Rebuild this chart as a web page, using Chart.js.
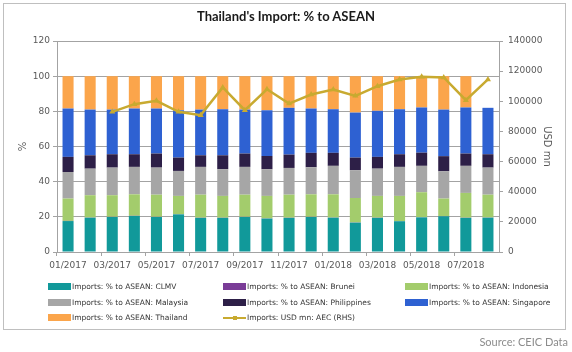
<!DOCTYPE html>
<html>
<head>
<meta charset="utf-8">
<script src="https://cdn.jsdelivr.net/npm/chart.js@4"></script>
<style>
  html,body{margin:0;padding:0;background:#fff;}
  #wrap{position:relative;width:572px;height:352px;overflow:hidden;}
  #frame{position:absolute;left:3px;top:3px;width:563px;height:327px;border:1px solid #bfbfbf;box-sizing:border-box;}
  #title{position:absolute;left:0;top:8px;width:572px;text-align:center;font:bold 13px Lato,"Open Sans",sans-serif;color:#1a1a1a;}
  canvas{position:absolute;left:0;top:0;}
  #legend{position:absolute;left:0;top:0;width:572px;height:352px;pointer-events:none;}
  .leg{position:absolute;display:flex;align-items:center;font:7.5px "DejaVu Sans",Verdana,sans-serif;color:#333;white-space:nowrap;}
  .sw{width:23px;height:7px;margin-right:1px;}
  .ln{width:23px;height:7px;margin-right:1px;position:relative;}
  .ln:before{content:'';position:absolute;left:0;right:0;top:3px;height:2px;background:#c8aa30;}
  .ln:after{content:'';position:absolute;left:10px;top:2px;width:4px;height:4px;background:#c8aa30;}
  #source{position:absolute;right:4px;top:335px;font:11px Lato,"Open Sans",sans-serif;color:#8c8c8c;}
</style>
</head>
<body>
<div id="wrap">
  <canvas id="chart" width="572" height="352"></canvas>
  <div id="frame"></div>
  <div id="title">Thailand's Import: % to ASEAN</div>
  <div id="legend"></div>
  <div id="source">Source: CEIC Data</div>
</div>
<script>
const months = ['01/2017','02/2017','03/2017','04/2017','05/2017','06/2017','07/2017','08/2017','09/2017','10/2017',
                '11/2017','12/2017','01/2018','02/2018','03/2018','04/2018','05/2018','06/2018','07/2018','08/2018'];

const clmv        = [17.6,19.5,19.9,20.5,19.9,21.4,19.4,19.4,19.9,19.0,19.4,19.9,19.5,16.7,19.4,17.5,19.7,20.3,19.4,19.5];
const brunei      = [0.1,0.1,0.1,0.1,0.1,0.1,0.1,0.1,0.1,0.1,0.1,0.1,0.1,0.1,0.1,0.1,0.1,0.1,0.1,0.1];
const indonesia   = [12.7,12.7,12.3,12.2,12.6,10.4,13.1,12.4,12.6,12.8,13.1,12.8,13.2,13.9,12.4,14.3,14.2,10.0,14.1,13.0];
const malaysia    = [15.1,15.1,15.7,15.6,15.4,14.2,15.8,15.2,15.8,15.2,15.2,15.4,16.2,15.8,15.5,16.5,15.0,15.5,15.4,15.4];
const philippines = [8.6,7.6,7.6,7.2,8.0,7.6,6.6,7.9,7.6,7.5,7.6,8.2,7.4,7.2,6.7,7.2,7.5,8.6,7.0,7.6];
const singapore   = [27.5,26.0,25.4,26.0,25.6,26.9,26.0,26.2,25.0,26.0,26.6,25.2,24.8,25.6,26.2,25.6,25.7,26.5,26.2,26.4];
const thailand    = [18.4,19.0,19.0,18.4,18.4,19.4,19.0,18.8,19.0,19.4,18.0,18.4,18.8,20.7,19.7,18.8,17.8,19.0,17.8,null];
const aecUsd      = [null,null,93000,98100,100300,93000,90800,109200,94100,108000,98500,104500,107800,103600,110000,114500,116200,115800,100700,114500];

const leftTicks = [0,20,40,60,80,100,120];
const rightTicks = [0,20000,40000,60000,80000,100000,120000,140000];

const C = {
  clmv:'#11999a', brunei:'#7a3c97', indo:'#a3cc6c', mal:'#a6a6a6',
  phil:'#2d1f47', sing:'#2e61d2', thai:'#fba54b', line:'#c8aa30', grid:'#a3a3a3', text:'#595959'
};

Chart.defaults.font.family = '"DejaVu Sans", Verdana, sans-serif';
Chart.defaults.font.size = 9;
Chart.defaults.color = C.text;

const bar = (label, data, color) => ({type:'bar', label, data, backgroundColor:color, borderWidth:0,
  yAxisID:'y', order:1, barPercentage:0.5, categoryPercentage:1});

const datasets = [
  bar('Imports: % to ASEAN: CLMV', clmv, C.clmv),
  bar('Imports: % to ASEAN: Brunei', brunei, C.brunei),
  bar('Imports: % to ASEAN: Indonesia', indonesia, C.indo),
  bar('Imports: % to ASEAN: Malaysia', malaysia, C.mal),
  bar('Imports: % to ASEAN: Philippines', philippines, C.phil),
  bar('Imports: % to ASEAN: Singapore', singapore, C.sing),
  bar('Imports: % to ASEAN: Thailand', thailand, C.thai),
  {type:'line', label:'Imports: USD mn: AEC (RHS)', data:aecUsd, yAxisID:'y1', order:0,
   borderColor:C.line, backgroundColor:C.line, borderWidth:2.5, pointStyle:'triangle',
   pointRadius:3.5, pointBorderWidth:0, tension:0, spanGaps:false}
];

new Chart(document.getElementById('chart'), {
  data:{labels:months, datasets},
  options:{
    responsive:false, animation:false,
    layout:{padding:{top:41, bottom:75, left:0, right:0}},
    plugins:{legend:{display:false}, title:{display:false}, tooltip:{enabled:false}},
    scales:{
      x:{
        stacked:true,
        grid:{offset:true, drawOnChartArea:false, tickLength:4,
              tickColor:ctx => ctx.index % 2 === 0 ? C.grid : 'rgba(0,0,0,0)'},
        border:{color:C.grid},
        ticks:{autoSkip:false, maxRotation:0, padding:4,
               callback:(v,i) => i % 2 === 0 ? months[i] : ''},
        afterFit:s => { s.height = 25; }
      },
      y:{
        stacked:true, position:'left', min:0, max:120,
        afterBuildTicks:s => { s.ticks = leftTicks.map(v => ({value:v})); },
        grid:{color:C.grid, tickLength:4},
        border:{color:C.grid},
        ticks:{padding:3},
        title:{display:true, text:'%', font:{size:10}, padding:{top:17}},
        afterFit:s => { s.width = 57; }
      },
      y1:{
        position:'right', min:0, max:140000,
        afterBuildTicks:s => { s.ticks = rightTicks.map(v => ({value:v})); },
        grid:{drawOnChartArea:false, color:C.grid, tickLength:4},
        border:{color:C.grid},
        ticks:{padding:5, callback:v => String(v)},
        title:{display:true, text:'USD mn', font:{size:10}, padding:{top:19}},
        afterFit:s => { s.width = 73; }
      }
    }
  }
});

// legend in three fixed columns, like the original
const legendCols = [48, 223, 405];
const legendRows = [286, 302, 317];
const leg = document.getElementById('legend');
datasets.forEach((d, i) => {
  const el = document.createElement('div');
  el.className = 'leg';
  el.style.left = legendCols[i % 3] + 'px';
  el.style.top = (legendRows[Math.floor(i / 3)] - 5) + 'px';
  el.style.height = '10px';
  const mark = d.type === 'line'
    ? '<span class="ln"></span>'
    : `<span class="sw" style="background:${d.backgroundColor}"></span>`;
  el.innerHTML = mark + d.label;
  leg.appendChild(el);
});
</script>
</body>
</html>
